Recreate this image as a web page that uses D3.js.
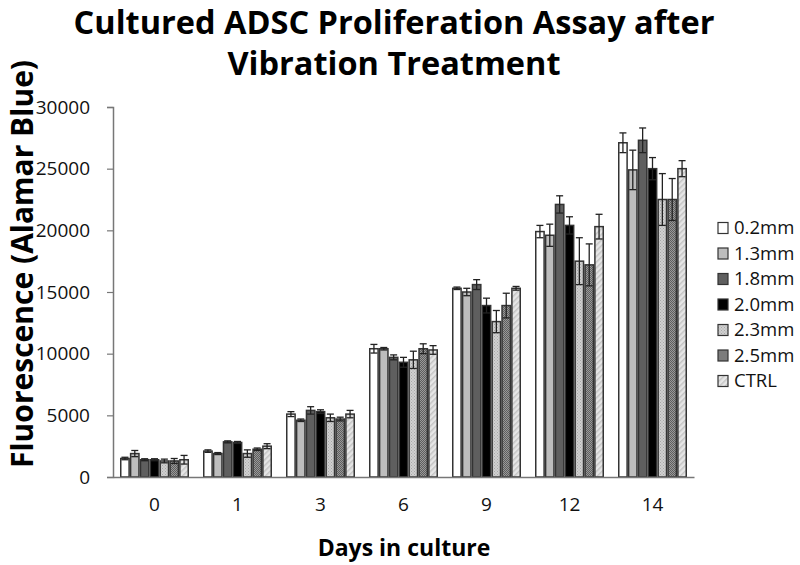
<!DOCTYPE html>
<html>
<head>
<meta charset="utf-8">
<script src="https://cdn.jsdelivr.net/npm/d3@7"></script>
<style>
  body { margin: 0; background: #fff; }
  svg { display: block; }
</style>
</head>
<body>
<div id="chart"></div>
<script>
// Days in culture (x categories)
const days = ["0", "1", "3", "6", "9", "12", "14"];
// Treatment series
const series = ["0.2mm", "1.3mm", "1.8mm", "2.0mm", "2.3mm", "2.5mm", "CTRL"];

// mean fluorescence, one array per series (index = day)
const v02 = [1500, 2100, 5100, 10400, 15300, 19900, 27100];
const v13 = [1900, 1900, 4600, 10400, 15000, 19600, 24900];
const v18 = [1400, 2850, 5400, 9700, 15600, 22100, 27300];
const v20 = [1400, 2800, 5300, 9300, 13900, 20400, 25000];
const v23 = [1300, 1900, 4800, 9500, 12600, 17500, 22500];
const v25 = [1300, 2250, 4700, 10400, 13900, 17200, 22500];
const vCtrl = [1400, 2500, 5100, 10300, 15300, 20300, 25000];

// standard error, same layout
const e02 = [100, 100, 200, 350, 100, 500, 800];
const e13 = [250, 80, 100, 100, 300, 900, 1600];
const e18 = [80, 80, 300, 200, 400, 700, 1000];
const e20 = [80, 80, 150, 400, 600, 700, 900];
const e23 = [150, 300, 300, 700, 900, 1900, 2100];
const e25 = [200, 100, 150, 400, 1000, 1700, 1700];
const eCtrl = [350, 200, 300, 350, 150, 1000, 650];

const yTicks = [0, 5000, 10000, 15000, 20000, 25000, 30000];
const titleLines = ["Cultured ADSC Proliferation Assay after", "Vibration Treatment"];

const values = [v02, v13, v18, v20, v23, v25, vCtrl];
const errors = [e02, e13, e18, e20, e23, e25, eCtrl];

const width = 800, height = 565;
const margin = { top: 107, right: 106, bottom: 88, left: 113 };
const font = "'Open Sans', sans-serif";

const svg = d3.select("#chart").append("svg")
    .attr("width", width)
    .attr("height", height);

// fill patterns for the textured series
const defs = svg.append("defs");

const dots = (id, bg, fg, step) => {
    const p = defs.append("pattern")
        .attr("id", id)
        .attr("patternUnits", "userSpaceOnUse")
        .attr("width", step).attr("height", step);
    p.append("rect").attr("width", step).attr("height", step).attr("fill", bg);
    p.append("rect").attr("width", 1).attr("height", 1).attr("fill", fg);
    p.append("rect").attr("x", step / 2).attr("y", step / 2)
        .attr("width", 1).attr("height", 1).attr("fill", fg);
};
dots("pat23", "#d0d0d0", "#a8a8a8", 3);
dots("pat25", "#999", "#5e5e5e", 2);

const stripes = defs.append("pattern")
    .attr("id", "patCtrl")
    .attr("patternUnits", "userSpaceOnUse")
    .attr("width", 4).attr("height", 4)
    .attr("patternTransform", "rotate(45)");
stripes.append("rect").attr("width", 4).attr("height", 4).attr("fill", "#e6e6e6");
stripes.append("rect").attr("width", 1.5).attr("height", 4).attr("fill", "#c4c4c4");

const fills = ["#ffffff", "#bdbdbd", "#5f5f5f", "#000000", "url(#pat23)", "url(#pat25)", "url(#patCtrl)"];

const x0 = d3.scaleBand()
    .domain(days)
    .range([margin.left, width - margin.right])
    .paddingInner(14 / 83)
    .paddingOuter(7 / 83);

const x1 = d3.scaleBand()
    .domain(series)
    .range([0, x0.bandwidth()]);

const y = d3.scaleLinear()
    .domain([0, 30000])
    .range([height - margin.bottom, margin.top]);

// y axis
const yAxis = svg.append("g")
    .attr("transform", `translate(${margin.left},0)`)
    .call(d3.axisLeft(y).tickValues(yTicks).tickSize(6).tickPadding(17).tickFormat(d3.format("d")));
yAxis.select(".domain").attr("stroke", "#777").attr("stroke-width", 1.5);
yAxis.selectAll(".tick line").attr("stroke", "#777").attr("stroke-width", 1.2);
yAxis.selectAll("text")
    .attr("font-family", font)
    .attr("font-size", 19)
    .attr("fill", "#111");

// bars
const groups = svg.append("g")
    .selectAll("g")
    .data(days)
    .join("g")
    .attr("transform", d => `translate(${x0(d)},0)`);

const cells = (d, i) => series.map((s, j) => ({ s, j, v: values[j][i], e: errors[j][i] }));

groups.selectAll("rect")
    .data(cells)
    .join("rect")
    .attr("x", d => x1(d.s) + 0.75)
    .attr("y", d => y(d.v))
    .attr("width", x1.bandwidth() - 1.5)
    .attr("height", d => y(0) - y(d.v))
    .attr("fill", d => fills[d.j])
    .attr("stroke", "#333")
    .attr("stroke-width", 1.5);

// error bars
const err = groups.selectAll("g.err")
    .data(cells)
    .join("g")
    .attr("class", "err")
    .attr("stroke", "#222")
    .attr("stroke-width", 1.3);
err.append("line")
    .attr("x1", d => x1(d.s) + x1.bandwidth() / 2)
    .attr("x2", d => x1(d.s) + x1.bandwidth() / 2)
    .attr("y1", d => y(d.v + d.e))
    .attr("y2", d => y(d.v - d.e));
[1, -1].forEach(sign => {
    err.append("line")
        .attr("x1", d => x1(d.s) + x1.bandwidth() / 2 - 3.5)
        .attr("x2", d => x1(d.s) + x1.bandwidth() / 2 + 3.5)
        .attr("y1", d => y(d.v + sign * d.e))
        .attr("y2", d => y(d.v + sign * d.e));
});

// x axis (drawn over bar bottoms)
const xAxis = svg.append("g")
    .attr("transform", `translate(0,${y(0)})`)
    .call(d3.axisBottom(x0).tickSize(0).tickPadding(21));
xAxis.select(".domain").attr("stroke", "#777").attr("stroke-width", 1.5);
xAxis.selectAll("text")
    .attr("font-family", font)
    .attr("font-size", 19)
    .attr("fill", "#111");

// title, two separate lines
svg.selectAll("text.title")
    .data(titleLines)
    .join("text")
    .attr("class", "title")
    .attr("x", 394)
    .attr("y", (d, i) => 34 + i * 41)
    .attr("text-anchor", "middle")
    .attr("font-family", font)
    .attr("font-weight", "bold")
    .attr("font-size", 32.5)
    .attr("fill", "#000")
    .text(d => d);

svg.append("text")
    .attr("transform", `translate(33,264) rotate(-90)`)
    .attr("text-anchor", "middle")
    .attr("font-family", font)
    .attr("font-weight", "bold")
    .attr("font-size", 30)
    .text("Fluorescence (Alamar Blue)");

svg.append("text")
    .attr("x", 404)
    .attr("y", 556)
    .attr("text-anchor", "middle")
    .attr("font-family", font)
    .attr("font-weight", "bold")
    .attr("font-size", 23)
    .text("Days in culture");

// legend
const legend = svg.append("g")
    .selectAll("g")
    .data(series)
    .join("g")
    .attr("transform", (d, i) => `translate(718,${228 + i * 25.5})`);
legend.append("rect")
    .attr("x", 0).attr("y", -5.5)
    .attr("width", 10).attr("height", 11)
    .attr("fill", (d, i) => fills[i])
    .attr("stroke", "#333")
    .attr("stroke-width", 1.2);
legend.append("text")
    .attr("x", 16)
    .attr("dy", "0.35em")
    .attr("font-family", font)
    .attr("font-size", 18.5)
    .attr("fill", "#111")
    .text(d => d);
</script>
</body>
</html>
